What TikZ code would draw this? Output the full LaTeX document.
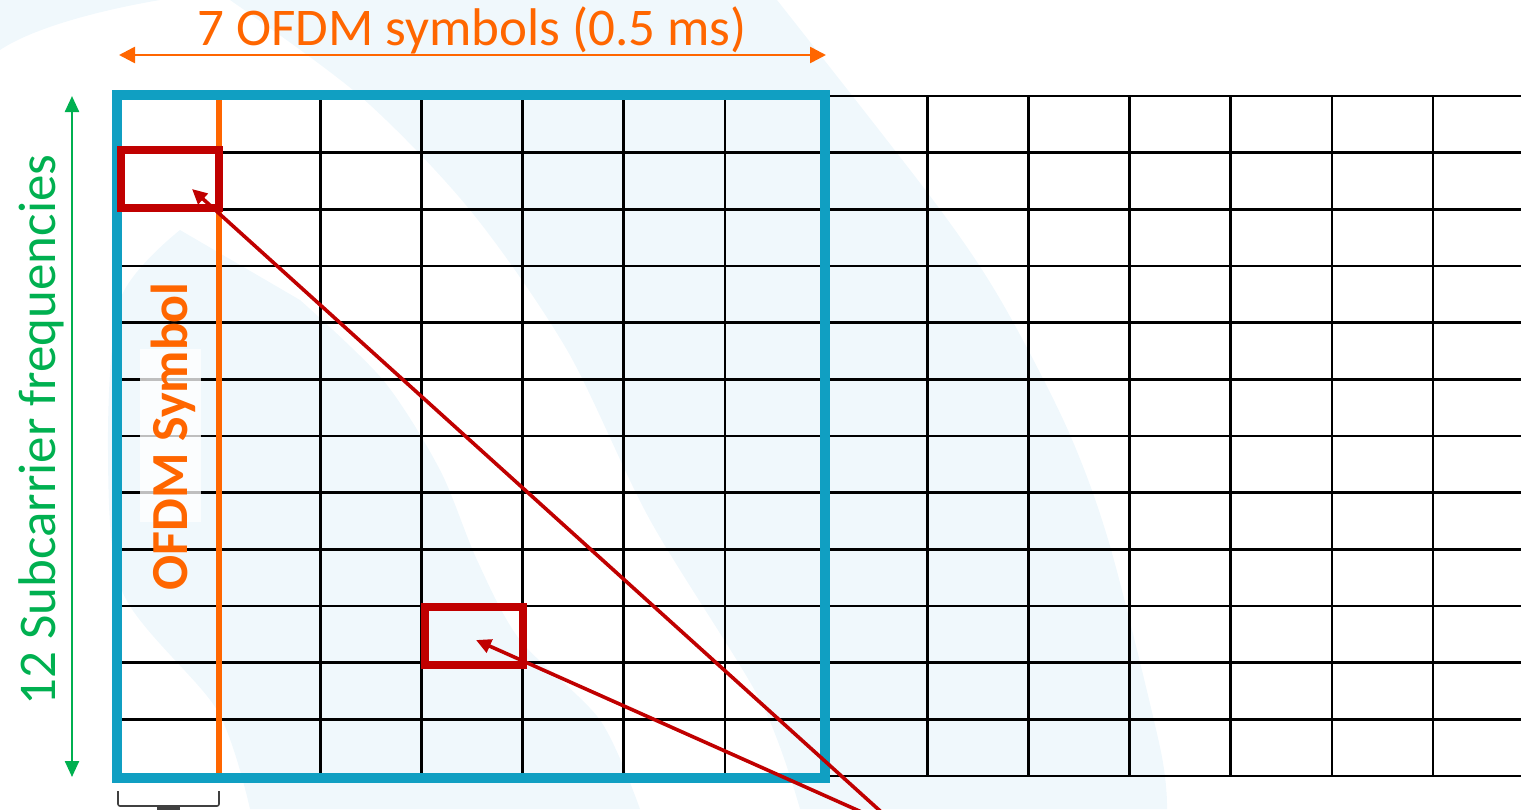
\documentclass[tikz,border=0pt]{standalone}
\usepackage{fontspec}
\setmainfont{Carlito}
\usetikzlibrary{arrows.meta}
\definecolor{bgblue}{RGB}{240,248,252}
\definecolor{boxblue}{RGB}{16,159,194}
\definecolor{lteorange}{RGB}{255,102,0}
\definecolor{redbox}{RGB}{192,0,0}
\definecolor{lgreen}{RGB}{0,176,80}
\definecolor{brgray}{RGB}{64,64,64}
\tikzset{
  gridline/.style={black, line width=2.6pt},
  framebox/.style={draw=boxblue, line width=10.5pt, inner sep=0pt, minimum width=708pt, minimum height=683pt},
  redcell/.style={draw=redbox, line width=8pt, inner sep=0pt, minimum width=98pt, minimum height=57.5pt},
  redarrow/.style={redbox, line width=3.6pt, -{Triangle[length=15pt,width=14pt]}},
  durarrow/.style={lteorange, line width=2.6pt, {Triangle[length=16pt,width=16pt]}-{Triangle[length=16pt,width=16pt]}},
  freqarrow/.style={lgreen, line width=2.4pt, {Triangle[length=16pt,width=14pt]}-{Triangle[length=16pt,width=14pt]}},
  lbl/.style={inner sep=0pt, font=\fontsize{53}{60}\selectfont},
}
\begin{document}
\begin{tikzpicture}[x=1pt,y=-1pt]
\useasboundingbox (0,0) rectangle (1521,809);
\clip (0,0) rectangle (1521,809);
% background watermark bands
\fill[bgblue] plot[smooth] coordinates {(230,0) (360,96) (470,210) (567,350) (650,520) (760,700) (800,809)}
  -- plot[smooth] coordinates {(1167,809) (1160,747) (1110,546) (1067,428) (1000,299) (933,200) (777,0)} -- cycle;
\fill[bgblue] plot[smooth] coordinates {(250,809) (217,710) (123,593) (108,450) (120,300) (180,230)}
  -- plot[smooth] coordinates {(300,300) (383,380) (440,470) (477,560) (520,640) (600,720) (640,809)} -- cycle;
\fill[bgblue] (0,0) -- (160,0) .. controls (90,12) and (30,30) .. (0,50) -- cycle;
% grid
\foreach \k in {0,...,12} \draw[gridline] (118,{96+\k*56.667}) -- (1521,{96+\k*56.667});
\foreach \k in {0,...,13} \draw[gridline] ({118+\k*101.15},96) -- ({118+\k*101.15},776);
% orange symbol line
\draw[lteorange, line width=5.5pt] (219,99) -- (219,773);
% translucent label background
\fill[white, opacity=0.75] (140,349) rectangle (201,522);
% frame
\node[framebox] (frame) at (471,436.5) {};
% red cells
\node[redcell] (cellA) at (170,179) {};
\node[redcell] (cellB) at (474.25,636) {};
% arrow endpoints
\coordinate (tipA) at (192,189);
\coordinate (tipB) at (476,640);
\coordinate (srcA) at (889,819);
\coordinate (srcB) at (875,818);
\draw[redarrow] (srcA) -- (tipA);
\draw[redarrow] (srcB) -- (tipB);
% duration arrow
\coordinate (durL) at (119,55);
\coordinate (durR) at (826,55);
\draw[durarrow] (durL) -- (durR);
\node[lbl, lteorange, anchor=base] (durlabel) at (472,45) {7 OFDM symbols (0.5 ms)};
% frequency arrow
\coordinate (freqT) at (72,96);
\coordinate (freqB) at (72,777);
\draw[freqarrow] (freqB) -- (freqT);
\node[lbl, lgreen, anchor=base, rotate=90] (freqlabel) at (55,430) {12 Subcarrier frequencies};
% OFDM symbol label
\node[inner sep=0pt, lteorange, anchor=base, rotate=90, font=\fontsize{52}{60}\selectfont\bfseries] (symlabel) at (187,436.5) {OFDM Symbol};
% bracket
\draw[brgray, line width=1.6pt, rounded corners=2pt] (118,791) -- (118,806) -- (219,806) -- (219,791);
\fill[brgray] (157,806) rectangle (180,810);
\end{tikzpicture}
\end{document}
